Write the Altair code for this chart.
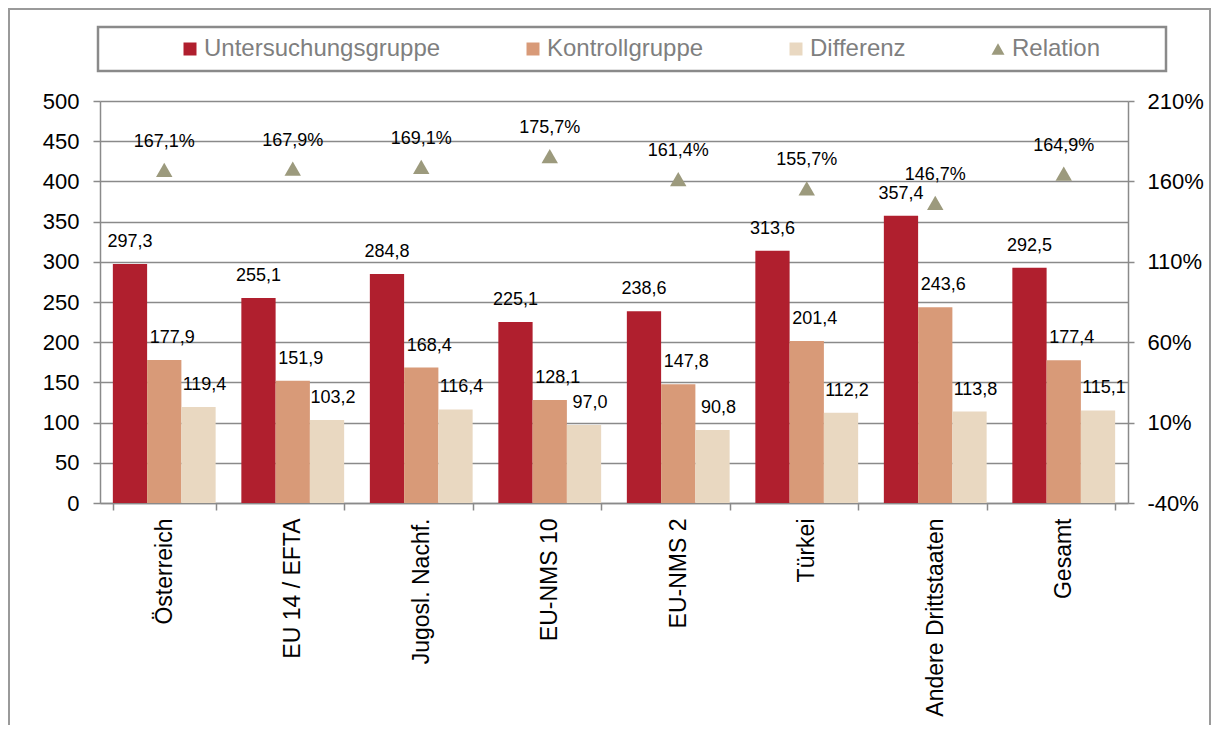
import altair as alt
import pandas as pd

categories = ["Österreich", "EU 14 / EFTA", "Jugosl. Nachf.", "EU-NMS 10",
              "EU-NMS 2", "Türkei", "Andere Drittstaaten", "Gesamt"]
series_names = ["Untersuchungsgruppe", "Kontrollgruppe", "Differenz"]
untersuchungsgruppe = [297.3, 255.1, 284.8, 225.1, 238.6, 313.6, 357.4, 292.5]
kontrollgruppe = [177.9, 151.9, 168.4, 128.1, 147.8, 201.4, 243.6, 177.4]
differenz = [119.4, 103.2, 116.4, 97.0, 90.8, 112.2, 113.8, 115.1]
relation = [167.1, 167.9, 169.1, 175.7, 161.4, 155.7, 146.7, 164.9]

left_ticks = [0, 50, 100, 150, 200, 250, 300, 350, 400, 450, 500]
right_ticks = [-40, 10, 60, 110, 160, 210]

legend_domain = series_names + ["Relation"]
colors = ["#B01F2E", "#D89A78", "#E9D8C1", "#9C9A7D"]
shapes = ["square", "square", "square", "triangle-up"]

FONT = "Liberation Sans"
GRAY = "#8A8A8A"


def de(v, suffix=""):
    return f"{v:.1f}".replace(".", ",") + suffix


rows = []
for name, vals in zip(series_names, [untersuchungsgruppe, kontrollgruppe, differenz]):
    for c, v in zip(categories, vals):
        rows.append({"cat": c, "series": name, "value": v, "label": de(v)})
bars_df = pd.DataFrame(rows)
rel_df = pd.DataFrame({"cat": categories, "series": ["Relation"] * len(categories),
                       "rel": relation, "label": [de(v, "%") for v in relation]})

legend = alt.Legend(title=" ", titleOrient="right", titlePadding=56, titleFontSize=1,
                    orient="none", legendX=-2, legendY=-74, direction="horizontal")

x_enc = alt.X("cat:N", sort=categories,
              scale=alt.Scale(domain=categories, paddingInner=0.2, paddingOuter=0.1),
              axis=alt.Axis(title=None, labelAngle=-90, tickBand="extent", tickSize=7,
                            labelPadding=8, labelFontSize=23, labelColor="black",
                            labelLimit=400,
                            domainColor=GRAY, tickColor=GRAY, domainWidth=1.5,
                            tickWidth=1.5, grid=False, labelFont=FONT))
xoff = alt.XOffset("series:N", scale=alt.Scale(domain=series_names, paddingInner=0, paddingOuter=0))
color_enc = alt.Color("series:N", scale=alt.Scale(domain=legend_domain, range=colors), legend=legend)
shape_enc = alt.Shape("series:N", scale=alt.Scale(domain=legend_domain, range=shapes), legend=legend)

y_left = alt.Y("value:Q", scale=alt.Scale(domain=[0, 500], nice=False),
               axis=alt.Axis(orient="left", values=left_ticks, title=None, grid=True,
                             gridColor=GRAY, gridWidth=1.5, tickSize=7, labelPadding=14,
                             labelFontSize=22, labelColor="black", labelFont=FONT,
                             domainColor=GRAY, tickColor=GRAY, domainWidth=1.5, tickWidth=1.5))
y_right = alt.Y("rel:Q", scale=alt.Scale(domain=[-40, 210], nice=False, zero=False),
                axis=alt.Axis(orient="right", values=right_ticks, title=None, grid=False,
                              labelExpr="datum.value + '%'", tickSize=6, labelPadding=13,
                              labelFontSize=22, labelColor="black", labelFont=FONT,
                              domainColor=GRAY, tickColor=GRAY, domainWidth=1.5, tickWidth=1.5))

base = alt.Chart(bars_df)
bars = base.mark_bar().encode(x=x_enc, xOffset=xoff, y=y_left, color=color_enc)

label_layers = []
for name, dx in zip(series_names, [0, 8, 6]):
    label_layers.append(
        base.transform_filter(alt.datum.series == name)
        .mark_text(dy=-22, dx=dx, fontSize=18, font=FONT, color="black")
        .encode(x=x_enc, xOffset=xoff, y=y_left, text="label:N")
    )

frame = alt.Chart(pd.DataFrame({"a": [0]})).mark_rect(
    fillOpacity=0, stroke="#9A9A9A", strokeWidth=2
).encode(x=alt.value(-91), x2=alt.value(1110), y=alt.value(-92), y2=alt.value(640))

left = alt.layer(frame, bars, *label_layers)

rbase = alt.Chart(rel_df)
pts = rbase.mark_point(filled=True, opacity=1, size=270, strokeWidth=0).encode(
    x=x_enc, y=y_right, color=color_enc, shape=shape_enc)
pt_labels = rbase.mark_text(dy=-28, fontSize=18, font=FONT, color="black").encode(
    x=x_enc, y=y_right, text="label:N")
right = alt.layer(pts, pt_labels)

chart = (
    alt.layer(left, right)
    .resolve_scale(y="independent")
    .properties(width=1028, height=402,
                padding={"left": 92, "top": 93, "right": 83, "bottom": 222},
                autosize=alt.AutoSizeParams(type="none"))
    .configure_view(stroke=None)
    .configure_legend(padding=10, strokeColor=GRAY, strokeWidth=2.5, labelFontSize=24,
                      labelColor="#7F7F7F", labelFont=FONT, symbolSize=169,
                      symbolOffset=70, columnPadding=10, labelOffset=2,
                      symbolStrokeWidth=0, labelLimit=600, titleFont=FONT)
)

chart.save("out.html", embed_options={"renderer": "svg", "actions": False})
